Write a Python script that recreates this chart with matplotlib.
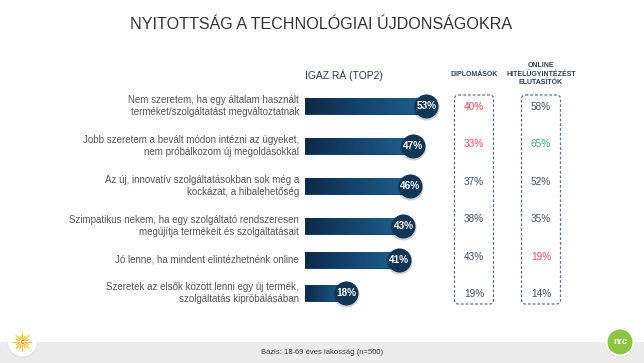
import matplotlib
matplotlib.use("Agg")
import matplotlib.pyplot as plt
import numpy as np
from matplotlib.patches import FancyBboxPatch, Rectangle, Circle
from matplotlib.colors import LinearSegmentedColormap

# ---------------- data ----------------
title = "NYITOTTSÁG A TECHNOLÓGIAI ÚJDONSÁGOKRA"
bar_header = "IGAZ RÁ (TOP2)"
col1_header = "DIPLOMÁSOK"
col2_header = "ONLINE\nHITELÜGYINTÉZÉST\nELUTASÍTÓK"
footnote = "Bázis: 18-69 éves lakosság (n=500)"

categories = [
    "Nem szeretem, ha egy általam használt\nterméket/szolgáltatást megváltoztatnak",
    "Jobb szeretem a bevált módon intézni az ügyeket,\nnem próbálkozom új megoldásokkal",
    "Az új, innovatív szolgáltatásokban sok még a\nkockázat, a hibalehetőség",
    "Szimpatikus nekem, ha egy szolgáltató rendszeresen\nmegújítja termékeit és szolgáltatásait",
    "Jó lenne, ha mindent elintézhetnénk online",
    "Szeretek az elsők között lenni egy új termék,\nszolgáltatás kipróbálásában",
]
top2 = [53, 47, 46, 43, 41, 18]
diplomasok = [40, 33, 37, 38, 43, 19]
online_elutasitok = [58, 65, 52, 35, 19, 14]
# significance flags: -1 = significantly lower (red), 1 = higher (green), 0 = none
diplomasok_flag = [-1, -1, 0, 0, 0, 0]
online_flag = [0, 1, 0, 0, -1, 0]

# ---------------- layout ----------------
W, H = 644, 363
bar_y = [106, 146, 186, 226, 260, 293]
val_y = [106.5, 144, 182, 219, 257, 294]
bar_h = 17
px_per_pct = 2.29
bar_x0 = 305
col1_x, col2_x = 474, 541

flag_colors = {-1: "#f2475a", 0: "#3e5068", 1: "#3daa6a"}
FONT = "Liberation Sans"
plt.rcParams["font.family"] = [FONT, "DejaVu Sans"]

fig = plt.figure(figsize=(W / 100, H / 100), dpi=100)
fig.patch.set_facecolor("white")

ax0 = fig.add_axes([0, 0, 1, 1])
ax0.set_xlim(0, W)
ax0.set_ylim(H, 0)
ax0.axis("off")

# title
ax0.text(321.5, 24.5, title, ha="center", va="center", fontsize=11.6,
         color="#333333")

# headers
ax0.text(bar_x0, 75.5, bar_header, ha="left", va="center", fontsize=7.4,
         color="#2c3a4c")
ax0.text(col1_x, 74, col1_header, ha="center", va="center", fontsize=5.0,
         color="#2c3f58", fontweight="bold")
ax0.text(col2_x, 74, col2_header, ha="center", va="center", fontsize=5.0,
         color="#2c3f58", fontweight="bold", linespacing=1.25)

# category labels
for y, lab in zip(bar_y, categories):
    ax0.text(299, y, lab, ha="right", va="center", fontsize=7.0,
             color="#555555", linespacing=1.3)

# dashed boxes
for xc in (col1_x, col2_x):
    box = FancyBboxPatch((xc - 19.5, 95), 39, 209,
                         boxstyle="round,pad=0,rounding_size=4",
                         fill=False, edgecolor="#5a6f86", linewidth=0.9,
                         linestyle=(0, (2.2, 1.6)))
    ax0.add_patch(box)

for y, v, f in zip(val_y, diplomasok, diplomasok_flag):
    ax0.text(col1_x, y, f"{v}%", ha="center", va="center", fontsize=7.2,
             color=flag_colors[f])
for y, v, f in zip(val_y, online_elutasitok, online_flag):
    ax0.text(col2_x, y, f"{v}%", ha="center", va="center", fontsize=7.2,
             color=flag_colors[f])

# footer band
ax0.add_patch(Rectangle((0, 342), W, 21, facecolor="#ebebeb",
                        edgecolor="none"))
ax0.text(W / 2, 352.5, footnote, ha="center", va="center", fontsize=5.5,
         color="#444444")

# logos
lx, ly = 22.5, 342
ax0.add_patch(Circle((lx, ly + 1), 15, facecolor="#d8d8d8", edgecolor="none",
                     alpha=0.5))
ax0.add_patch(Circle((lx, ly), 14.5, facecolor="white", edgecolor="none"))
for k, ang in enumerate(np.linspace(0, 2 * np.pi, 16, endpoint=False)):
    r1, r2 = 3, (9 if k % 2 == 0 else 6.5)
    ax0.plot([lx + r1 * np.cos(ang), lx + r2 * np.cos(ang)],
             [ly + r1 * np.sin(ang), ly + r2 * np.sin(ang)],
             color="#f7c21b", lw=0.9, solid_capstyle="round")
ax0.text(lx, ly + 0.3, "c", ha="center", va="center", fontsize=5,
         color="#e8457a", fontweight="bold")

rx, ry = 620, 342
ax0.add_patch(Circle((rx, ry + 1), 15, facecolor="#d8d8d8", edgecolor="none",
                     alpha=0.5))
ax0.add_patch(Circle((rx, ry), 14.5, facecolor="white", edgecolor="none"))
ax0.add_patch(Circle((rx, ry), 12.5, facecolor="#8cc63f", edgecolor="none"))
ax0.text(rx, ry - 1, "nrc", ha="center", va="center", fontsize=6.5,
         color="white", fontweight="bold")

# ---------------- bars ----------------
ax_w_pct = 60
ax = fig.add_axes([bar_x0 / W, 0, px_per_pct * ax_w_pct / W, 1])
ax.patch.set_alpha(0)
ax.axis("off")

bars = ax.barh(bar_y, top2, height=bar_h, left=0, color="#15426b",
               edgecolor="none", zorder=1)
cmap = LinearSegmentedColormap.from_list("g", ["#0c2a4a", "#1f6193"])
grad = np.linspace(0, 1, 256).reshape(1, -1)
for b, v, y in zip(bars, top2, bar_y):
    im = ax.imshow(grad, cmap=cmap, aspect="auto",
                   extent=[0, v, y + bar_h / 2, y - bar_h / 2], zorder=2)
    im.set_clip_path(b)

d_pt = 24 * 72 / 100
ax.scatter(top2, [y + 0.8 for y in bar_y], s=(d_pt + 1.5) ** 2,
           color="#000000", alpha=0.18, zorder=3, clip_on=False,
           linewidths=0)
ax.scatter(top2, bar_y, s=d_pt ** 2, color="#0f3557", zorder=4,
           clip_on=False, linewidths=0)
for v, y in zip(top2, bar_y):
    ax.text(v, y, f"{v}%", ha="center", va="center", fontsize=7.2,
            color="white", fontweight="bold", zorder=5)

ax.set_xlim(0, ax_w_pct)
ax.set_ylim(H, 0)

fig.savefig("out.png", dpi=100, facecolor="white")
